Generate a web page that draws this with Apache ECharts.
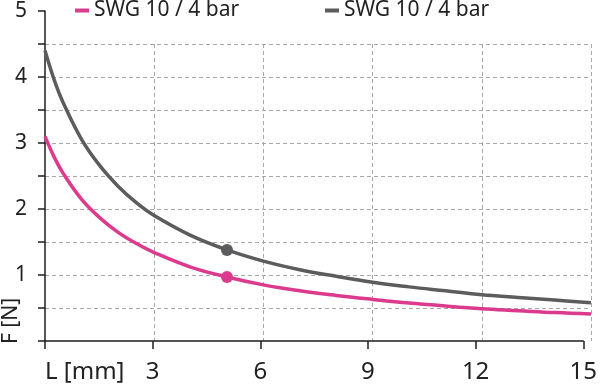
<!DOCTYPE html>
<html>
<head>
<meta charset="utf-8">
<script src="https://cdn.jsdelivr.net/npm/echarts@6/dist/echarts.min.js"></script>
<style>
html,body{margin:0;padding:0;background:#fff;}
#chart{width:600px;height:387px;}
</style>
</head>
<body>
<div id="chart"></div>
<script>
// ---- data ----
const xValues   = [0, 0.25, 0.5, 1, 1.5, 2, 2.5, 3, 4, 5, 6, 7, 8, 9, 10, 11, 12, 13, 14, 15];
const pinkVals  = [3.10, 2.79, 2.54, 2.15, 1.87, 1.65, 1.48, 1.34, 1.12, 0.97, 0.85, 0.76, 0.69, 0.63, 0.575, 0.53, 0.49, 0.46, 0.43, 0.41];
const grayVals  = [4.40, 3.96, 3.61, 3.06, 2.66, 2.35, 2.10, 1.90, 1.60, 1.38, 1.21, 1.08, 0.98, 0.89, 0.82, 0.76, 0.70, 0.66, 0.62, 0.58];
const markerX   = 5;
const markerPink = 0.97;
const markerGray = 1.38;
const seriesKeys   = ['pink', 'gray'];
const legendLabels = ['SWG 10 / 4 bar', 'SWG 10 / 4 bar'];
const xTickLabels = {0: 'L [mm]', 3: '3', 6: '6', 9: '9', 12: '12', 15: '15'};
const yTickLabels = {1: '1', 2: '2', 3: '3', 4: '4', 5: '5'};
const yAxisTitle = 'F [N]';

const PINK = '#dc3a8c';
const GRAY = '#5c5c5e';
const AX = '#1e1e1e';

const chart = echarts.init(document.getElementById('chart'), null, {renderer: 'canvas'});
const pairs = (ys) => xValues.map((x, i) => [x, ys[i]]);

const option = {
  animation: false,
  backgroundColor: '#fff',
  grid: [
    {left: 45, right: 9, top: 11, bottom: 46, containLabel: false},
    {left: 45, right: 9, top: 44, bottom: 46, containLabel: false}
  ],
  legend: [
    {left: 75, top: 0, padding: 0, data: [seriesKeys[0]], icon: 'rect', itemWidth: 14, itemHeight: 4,
     formatter: () => legendLabels[0], selectedMode: false,
     textStyle: {fontFamily: 'Noto Sans', fontSize: 21, color: '#222'}},
    {left: 325, top: 0, padding: 0, data: [seriesKeys[1]], icon: 'rect', itemWidth: 14, itemHeight: 4,
     formatter: () => legendLabels[1], selectedMode: false,
     textStyle: {fontFamily: 'Noto Sans', fontSize: 21, color: '#222'}}
  ],
  xAxis: [
    {gridIndex: 0, type: 'value', min: 0, max: 15, interval: 3,
     axisLine: {show: true, onZero: false, lineStyle: {color: AX, width: 1.5}},
     axisTick: {show: true, length: 8, lineStyle: {color: AX, width: 1.5}},
     axisLabel: {margin: 19, alignMinLabel: 'left', color: '#222', fontFamily: 'Noto Sans', fontSize: 24,
                 formatter: (v) => xTickLabels[v] !== undefined ? xTickLabels[v] : ''},
     splitLine: {show: false}},
    {gridIndex: 1, type: 'value', min: 0, max: 15, interval: 3,
     axisLine: {show: false}, axisTick: {show: false}, axisLabel: {show: false},
     splitLine: {show: true, showMinLine: false, lineStyle: {color: '#a8a8a8', type: [4, 3], width: 1}}}
  ],
  yAxis: [
    {gridIndex: 0, type: 'value', min: 0, max: 5, interval: 0.5,
     axisLine: {show: true, onZero: false, lineStyle: {color: AX, width: 1.5}},
     axisTick: {show: true, length: 7, lineStyle: {color: AX, width: 1.5}},
     axisLabel: {margin: 18, color: '#222', fontFamily: 'Noto Sans', fontSize: 21,
                 formatter: (v) => yTickLabels[v] !== undefined ? yTickLabels[v] : ''},
     splitLine: {show: false}},
    {gridIndex: 1, type: 'value', min: 0, max: 4.5, interval: 0.5,
     axisLine: {show: false}, axisTick: {show: false}, axisLabel: {show: false},
     splitLine: {show: true, showMinLine: false, lineStyle: {color: '#a8a8a8', type: [4, 3], width: 1}}}
  ],
  series: [
    {name: seriesKeys[0], type: 'line', xAxisIndex: 1, yAxisIndex: 1, data: pairs(pinkVals),
     smooth: 0.4, showSymbol: false, symbol: 'none',
     lineStyle: {color: PINK, width: 3.5}, itemStyle: {color: PINK}, z: 3},
    {name: seriesKeys[1], type: 'line', xAxisIndex: 1, yAxisIndex: 1, data: pairs(grayVals),
     smooth: 0.4, showSymbol: false, symbol: 'none',
     lineStyle: {color: GRAY, width: 3.5}, itemStyle: {color: GRAY}, z: 3},
    {name: 'pinkMarker', type: 'scatter', xAxisIndex: 1, yAxisIndex: 1, data: [[markerX, markerPink]],
     symbol: 'circle', symbolSize: 12, itemStyle: {color: PINK, opacity: 1}, z: 4},
    {name: 'grayMarker', type: 'scatter', xAxisIndex: 1, yAxisIndex: 1, data: [[markerX, markerGray]],
     symbol: 'circle', symbolSize: 12, itemStyle: {color: GRAY, opacity: 1}, z: 4}
  ],
  graphic: [
    {type: 'text', x: 11, y: 321, rotation: Math.PI / 2,
     style: {text: yAxisTitle, fill: '#222', fontFamily: 'Noto Sans', fontSize: 21, align: 'center', verticalAlign: 'middle'}}
  ]
};
chart.setOption(option);
</script>
</body>
</html>
